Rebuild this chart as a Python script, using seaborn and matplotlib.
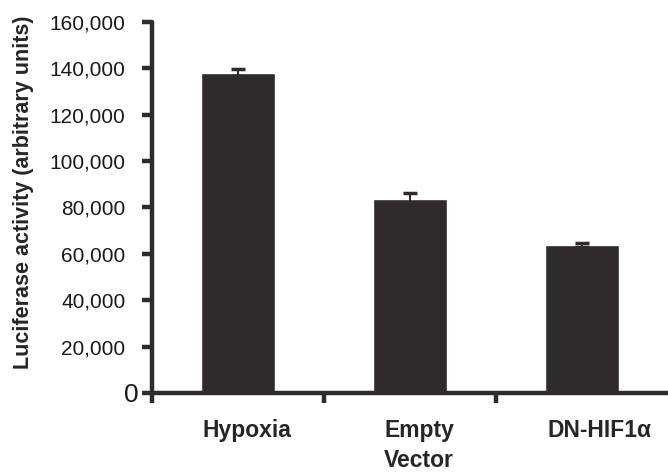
import numpy as np
import pandas as pd
import seaborn as sns
import matplotlib.pyplot as plt
import matplotlib.transforms as mtransforms
from matplotlib.ticker import FuncFormatter, FixedLocator

# ====================== DATA ======================
categories = ["Hypoxia", "Empty\nVector", "DN-HIF1α"]
activity = [138000, 83500, 63800]
errors = [1500, 2700, 1000]
y_ticks = [0, 20000, 40000, 60000, 80000, 100000, 120000, 140000, 160000]

DARK = "#2f2a2b"

sns.set_style("white")
plt.rcParams["font.family"] = ["Liberation Sans", "DejaVu Sans"]

df = pd.DataFrame({"group": categories, "activity": activity})

fig = plt.figure(figsize=(6.68, 4.72), dpi=100)
ax = fig.add_axes([0.2275, 0.1674, 0.7725, 0.7866])

sns.barplot(data=df, x="group", y="activity", color=DARK, width=0.43,
            saturation=1, errorbar=None, ax=ax)
ax.errorbar(np.arange(len(categories)), activity, yerr=errors, fmt="none",
            ecolor=DARK, elinewidth=1.5, capsize=5, capthick=2.5)

ax.set_xlim(-0.5, 2.5)
ax.set_ylim(0, 160000)

for side in ["top", "right"]:
    ax.spines[side].set_visible(False)
for side in ["left", "bottom"]:
    ax.spines[side].set_linewidth(3.2)
    ax.spines[side].set_color(DARK)
    ax.spines[side].set_capstyle("round")
ax.spines["bottom"].set_zorder(5)

ax.yaxis.set_major_locator(FixedLocator(y_ticks))
ax.yaxis.set_major_formatter(FuncFormatter(lambda v, p: f"{int(v):,}"))
ax.tick_params(axis="y", left=True, direction="out", length=7, width=3.2,
               color=DARK, labelsize=15, pad=12, labelcolor="#1a1a1a")

# tick marks at group boundaries, labels at group centres
ax.xaxis.set_major_locator(FixedLocator([-0.5, 0.5, 1.5]))
ax.xaxis.set_minor_locator(FixedLocator(np.arange(len(categories))))
ax.set_xticklabels([], minor=False)
ax.set_xticklabels(categories, minor=True, fontweight="bold", fontsize=16.5,
                   linespacing=1.35)
ax.tick_params(axis="x", which="major", bottom=True, direction="out", length=7,
               width=3.2, color=DARK)
ax.tick_params(axis="x", which="minor", bottom=True, length=0, pad=19)
for t in ax.xaxis.get_major_ticks():
    t.tick1line.set_solid_capstyle("round")
for t in ax.yaxis.get_major_ticks():
    t.tick1line.set_solid_capstyle("round")

# labels in the original sit a little right of the bar centres
shifts = [9, 9, 18]
for lab, dx in zip(ax.get_xticklabels(minor=True), shifts):
    lab.set_transform(lab.get_transform() +
                      mtransforms.ScaledTranslation(dx / 100, 0, fig.dpi_scale_trans))

# the zero label is drawn larger and closer to the axis in the original
fig.canvas.draw()
zero = ax.get_yticklabels()[0]
zero.set_fontsize(19)
zero.set_transform(zero.get_transform() +
                   mtransforms.ScaledTranslation(0.13, 0, fig.dpi_scale_trans))

ax.set_xlabel("")
ax.set_ylabel("Luciferase activity (arbitrary units)", fontweight="bold",
              fontsize=15.5)
ax.yaxis.set_label_coords(-0.228, 0.54)

plt.savefig("out.png", dpi=100)
